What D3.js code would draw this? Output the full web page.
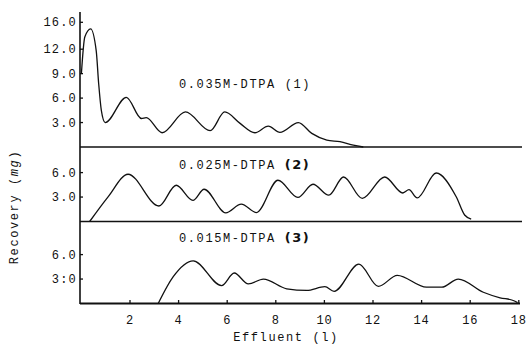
<!DOCTYPE html>
<html><head><meta charset="utf-8">
<script src="https://cdn.jsdelivr.net/npm/d3@7"></script>
<style>
body{margin:0;background:#fff;}
text{font-family:"Liberation Mono","DejaVu Sans Mono",monospace;fill:#111;}
</style></head>
<body><svg id="c" width="531" height="348"></svg>
<script>
// ---- data ----
const xTickValues = [2,4,6,8,10,12,14,16,18];
const xTickLabels = ["2","4","6","8","10","12","14","16","18"];

const panelNames = ["0.035M-DTPA", "0.025M-DTPA", "0.015M-DTPA"];
const panelTags = ["(1)", "(2)", "(3)"];

const yTickValues1 = [3, 6, 9, 12, 15.3];
const yTickLabels1 = ["3.0", "6.0", "9.0", "12.0", "16.0"];
const yTickValues2 = [3, 6];
const yTickLabels2 = ["3.0", "6.0"];
const yTickValues3 = [3, 6];
const yTickLabels3 = ["3:0", "6.0"];

const effluent1 = [0, 0.14, 0.38, 0.61, 0.71, 0.82, 0.98, 1.85, 2.47, 2.67, 3.32, 4.28, 5.3, 5.9, 6.53, 7.14, 7.69, 8.17, 8.93, 9.48, 10.1, 10.64, 11.19, 11.6];
const recovery1 = [9.0, 13.5, 14.5, 11.8, 7.8, 4.5, 3.0, 6.1, 3.5, 3.6, 1.75, 4.3, 2.0, 4.3, 2.9, 1.75, 2.56, 1.8, 3.0, 1.67, 0.85, 0.65, 0.24, 0];

const effluent2 = [0.34, 1.09, 1.92, 3.19, 3.9, 4.59, 5.05, 5.94, 6.58, 7.2, 8.09, 8.91, 9.53, 10.18, 10.79, 11.56, 12.48, 13.23, 13.48, 13.82, 14.6, 15.43, 15.77, 16.04];
const recovery2 = [0, 3.0, 5.8, 1.9, 4.45, 2.6, 3.96, 1.07, 2.13, 1.1, 5.06, 2.95, 4.57, 3.23, 5.46, 2.83, 5.46, 3.5, 3.9, 2.9, 5.95, 3.0, 0.8, 0.3];

const effluent3 = [3.16, 3.78, 4.6, 5.77, 6.29, 6.87, 7.49, 8.45, 9.27, 10.02, 10.4, 11.42, 12.22, 13.0, 14.2, 14.83, 15.51, 16.54, 17.23, 17.77, 17.95];
const recovery3 = [0, 3.3, 5.24, 2.2, 3.74, 2.4, 3.0, 1.8, 1.6, 2.07, 1.5, 4.84, 2.1, 3.45, 2.0, 2.0, 3.0, 1.38, 0.7, 0.37, 0.1];

// ---- layout ----
const svg = d3.select("#c");
const axisX = 80, rightX = 522;
const x = d3.scaleLinear().domain([0, 18]).range([81.4, 518.8]);

const panels = [
  {top: 12, base: 147, xs: effluent1, ys: recovery1, tv: yTickValues1, tl: yTickLabels1, ly: 88},
  {top: 147, base: 221.5, xs: effluent2, ys: recovery2, tv: yTickValues2, tl: yTickLabels2, ly: 169},
  {top: 221.5, base: 303.5, xs: effluent3, ys: recovery3, tv: yTickValues3, tl: yTickLabels3, ly: 242}
];
const pxPerUnit = 8.15;

panels.forEach((p, i) => {
  const y = d3.scaleLinear().domain([0, (p.base - p.top) / pxPerUnit]).range([p.base, p.top]);
  p.y = y;
  // baseline
  svg.append("line").attr("x1", axisX).attr("x2", i === 2 ? 520 : rightX)
    .attr("y1", p.base).attr("y2", p.base)
    .attr("stroke", "#111").attr("stroke-width", i === 2 ? 2 : 1.3);
  // y ticks
  const g = svg.append("g");
  p.tv.forEach((v, k) => {
    g.append("line").attr("x1", axisX).attr("x2", axisX + 3)
      .attr("y1", y(v)).attr("y2", y(v)).attr("stroke", "#111").attr("stroke-width", 1.3);
    g.append("text").attr("x", 77).attr("y", y(v) + 4)
      .attr("text-anchor", "end").attr("font-size", 12).attr("letter-spacing", 1.2)
      .text(p.tl[k]);
  });
  // curve
  const pts = p.xs.map((d, k) => [d, p.ys[k]]);
  const line = d3.line().x(d => x(d[0])).y(d => y(d[1])).curve(d3.curveMonotoneX);
  svg.append("path").attr("d", line(pts)).attr("fill", "none")
    .attr("stroke", "#111").attr("stroke-width", 1.3);
  // label
  const t = svg.append("text").attr("x", 179).attr("y", p.ly).attr("font-size", 12).attr("letter-spacing", 1.6);
  t.append("tspan").text(panelNames[i] + "  ");
  t.append("tspan").attr("font-weight", i === 0 ? "normal" : "bold")
    .attr("font-family", i === 0 ? null : "DejaVu Sans")
    .attr("font-size", i === 0 ? 12 : 13).text(panelTags[i]);
});

// vertical axis
svg.append("line").attr("x1", axisX).attr("x2", axisX).attr("y1", 12).attr("y2", 304)
  .attr("stroke", "#111").attr("stroke-width", 1.6);

// x axis ticks & labels
const xg = svg.append("g");
xTickValues.forEach((v, k) => {
  xg.append("line").attr("x1", x(v)).attr("x2", x(v)).attr("y1", 303.5).attr("y2", 300)
    .attr("stroke", "#111").attr("stroke-width", 1.3);
  xg.append("text").attr("x", x(v)).attr("y", 324).attr("text-anchor", "middle")
    .attr("font-size", 12).attr("letter-spacing", 0.8).text(xTickLabels[k]);
});

// axis titles
svg.append("text").attr("x", 286).attr("y", 341).attr("text-anchor", "middle")
  .attr("font-size", 12).attr("letter-spacing", 1.6).text("Effluent (l)");
const yt = svg.append("text").attr("transform", "translate(18,207) rotate(-90)")
  .attr("text-anchor", "middle").attr("font-size", 12).attr("letter-spacing", 1.6);
yt.append("tspan").text("Recovery (");
yt.append("tspan").attr("font-style", "italic").text("mg");
yt.append("tspan").text(")");
</script></body></html>
